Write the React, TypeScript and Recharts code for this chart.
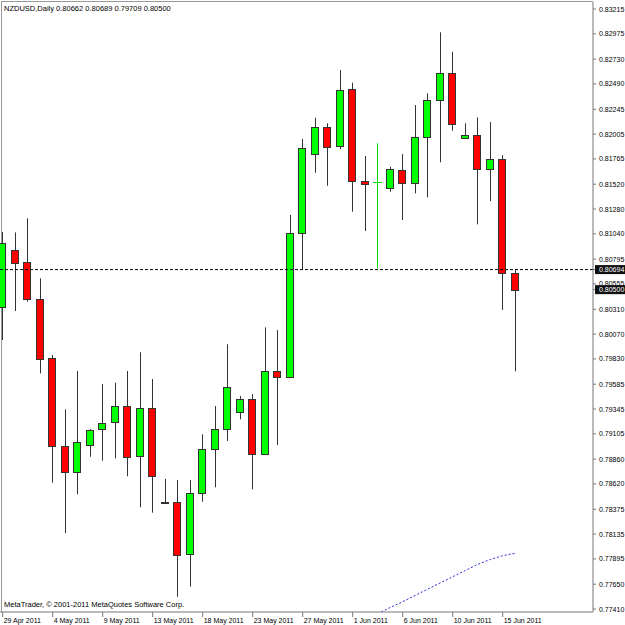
import { ComposedChart, Bar, Line, XAxis, YAxis, ReferenceLine } from 'recharts';

// NZDUSD daily, 29 Apr 2011 .. 16 Jun 2011 (MetaTrader counts the Sunday bars)
const opens = [
  0.80329, 0.8088, 0.8077, 0.80412, 0.79838, 0.7899, 0.78735, 0.78997, 0.79148, 0.79216,
  0.79377, 0.7889, 0.79352, 0.7845, 0.78445, 0.77939, 0.78529, 0.78961, 0.79151, 0.79316,
  0.79439, 0.78907, 0.79716, 0.79652, 0.81045, 0.81809, 0.8207, 0.81892, 0.82441, 0.81554,
  0.81538, 0.81486, 0.81657, 0.81529, 0.81974, 0.82335, 0.82599, 0.8197, 0.81993, 0.81667,
  0.81761, 0.80662,
];
const highs = [
  0.81057, 0.81054, 0.8119, 0.80609, 0.79867, 0.79342, 0.79713, 0.7915, 0.79587, 0.796,
  0.79713, 0.79894, 0.79635, 0.78668, 0.78658, 0.78658, 0.791, 0.79374, 0.79971, 0.79471,
  0.7949, 0.80135, 0.80109, 0.81222, 0.81957, 0.82163, 0.82109, 0.82625, 0.82502, 0.81793,
  0.81916, 0.81689, 0.81812, 0.82286, 0.82399, 0.8299, 0.82802, 0.82109, 0.82167, 0.82122,
  0.81802, 0.80689,
];
const lows = [
  0.80013, 0.80293, 0.80383, 0.7969, 0.78632, 0.78145, 0.7852, 0.78883, 0.78845, 0.78868,
  0.78694, 0.78394, 0.78342, 0.78444, 0.77529, 0.77626, 0.78448, 0.78588, 0.79036, 0.79245,
  0.78568, 0.789, 0.78997, 0.79648, 0.8069, 0.81631, 0.81505, 0.8186, 0.81254, 0.81067,
  0.80706, 0.81447, 0.81174, 0.81432, 0.81393, 0.81732, 0.82037, 0.81964, 0.81132, 0.81357,
  0.80303, 0.79709,
];
const closes = [
  0.80954, 0.8076, 0.80406, 0.79831, 0.7899, 0.78735, 0.79023, 0.79145, 0.79212, 0.79377,
  0.78883, 0.79352, 0.78697, 0.78446, 0.77932, 0.78529, 0.78961, 0.79148, 0.79555, 0.79439,
  0.78907, 0.79716, 0.79652, 0.81045, 0.81873, 0.8207, 0.81883, 0.82431, 0.81554, 0.81522,
  0.81538, 0.81667, 0.81529, 0.81979, 0.82335, 0.82599, 0.82099, 0.81993, 0.81667, 0.81761,
  0.80658, 0.805,
];
// moving average, only the tail is inside the window
const maValues: (number | null)[] = [
  null, null, null, null, null, null, null, null, null, null,
  null, null, null, null, null, null, null, null, null, null,
  null, null, null, null, null, null, null, null, null, null,
  0.77365, 0.77425, 0.77481, 0.77541, 0.77603, 0.77662, 0.77722, 0.77782, 0.77841, 0.77889,
  0.77926, 0.77949,
];

const dateTickIdx = [0, 4, 8, 12, 16, 20, 24, 28, 32, 36, 40];
const dateLabels = [
  '29 Apr 2011', '4 May 2011', '9 May 2011', '13 May 2011', '18 May 2011', '23 May 2011',
  '27 May 2011', '1 Jun 2011', '6 Jun 2011', '10 Jun 2011', '15 Jun 2011',
];
const priceTicks = [
  0.83215, 0.82975, 0.8273, 0.8249, 0.82245, 0.82005, 0.81765, 0.8152, 0.8128, 0.8104,
  0.80795, 0.80555, 0.8031, 0.8007, 0.7983, 0.79585, 0.79345, 0.79105, 0.7886, 0.7862,
  0.78375, 0.78135, 0.77895, 0.7765, 0.7741,
];
const askPrice = 0.80694;
const bidPrice = 0.805;

const data = opens.map((o, i) => ({
  idx: i,
  open: o,
  high: highs[i],
  low: lows[i],
  close: closes[i],
  range: [lows[i], highs[i]],
  ma: maValues[i],
}));

const FONT = "'Liberation Sans', Arial, sans-serif";
const EDGE = '#333';
const DOJI = '#00dd00';

const Candle = (props: any) => {
  const { x, y, width, height, payload } = props;
  if (x == null || y == null) return null;
  const { open, close, high, low } = payload;
  const top = Math.min(y, y + height);
  const bot = Math.max(y, y + height);
  const span = high - low || 1;
  const py = (p: number) => top + ((high - p) / span) * (bot - top);
  const left = Math.round(x + width / 2 - 4);
  const wx = left + 4.5;

  if (Math.abs(open - close) < 1e-7) {
    // exact doji: MetaTrader paints it with the line chart colour
    const yy = Math.round(py(open)) + 0.5;
    return (
      <g>
        <line x1={wx} x2={wx} y1={top} y2={bot} stroke={DOJI} strokeWidth={1} />
        <line x1={left} x2={left + 9} y1={yy} y2={yy} stroke={DOJI} strokeWidth={1} />
      </g>
    );
  }

  const bull = close > open;
  const bTop = Math.round(py(Math.max(open, close)));
  const bBot = Math.round(py(Math.min(open, close)));
  return (
    <g>
      <line x1={wx} x2={wx} y1={top} y2={bot} stroke={EDGE} />
      <rect
        x={left + 0.5}
        y={bTop + 0.5}
        width={7}
        height={Math.max(bBot - bTop, 1)}
        fill={bull ? '#00ff00' : '#ff0000'}
        stroke={EDGE}
      />
    </g>
  );
};

const DateTick = (props: any) => {
  const { x, y, payload } = props;
  const i = dateTickIdx.indexOf(payload.value);
  return (
    <text x={x + 1} y={y + 4} fontSize={7} fontFamily={FONT} fill="#000">
      {dateLabels[i]}
    </text>
  );
};

const PriceTick = (props: any) => {
  const { x, y, payload } = props;
  const v = payload.value;
  const marked = v === askPrice || v === bidPrice;
  return (
    <g>
      {marked && <rect x={595} y={y - 4.5} width={30} height={9} fill="#111" />}
      <text x={x + 1} y={y + 2.5} fontSize={7} fontFamily={FONT} fill={marked ? '#fff' : '#000'}>
        {v.toFixed(5)}
      </text>
    </g>
  );
};

export default function App() {
  return (
    <div style={{ position: 'absolute', left: 0, top: 0, width: 625, height: 625, background: '#fff' }}>
      <ComposedChart width={625} height={625} data={data} margin={{ top: 2, right: 0, bottom: 0, left: 0 }}>
        <XAxis
          dataKey="idx"
          type="number"
          domain={[-0.216, 47.224]}
          allowDataOverflow
          ticks={dateTickIdx}
          interval={0}
          tick={(p: any) => <DateTick {...p} />}
          tickSize={5}
          height={13}
          axisLine={{ stroke: '#777' }}
          tickLine={{ stroke: '#777' }}
        />
        <YAxis
          orientation="right"
          type="number"
          domain={[0.77381, 0.83283]}
          allowDataOverflow
          ticks={[...priceTicks, askPrice, bidPrice]}
          interval={0}
          width={32}
          tickSize={3}
          tick={(p: any) => <PriceTick {...p} />}
          axisLine={{ stroke: '#777' }}
          tickLine={{ stroke: '#777' }}
        />
        <ReferenceLine y={askPrice} stroke="#000" strokeDasharray="3 2" />
        <Bar dataKey="range" barSize={8} shape={(p: any) => <Candle {...p} />} isAnimationActive={false} />
        <Line
          dataKey="ma"
          stroke="#2a2ae0"
          strokeDasharray="2 2"
          dot={false}
          activeDot={false}
          connectNulls={false}
          isAnimationActive={false}
        />
        <line x1={1.5} x2={1.5} y1={1} y2={612} stroke="#999" />
        <line x1={1} x2={593} y1={1.5} y2={1.5} stroke="#999" />
        <text x={4} y={11} fontSize={7.5} fontFamily={FONT} fill="#000">
          NZDUSD,Daily  0.80662 0.80689 0.79709 0.80500
        </text>
        <text x={4} y={607} fontSize={7.5} fontFamily={FONT} fill="#000">
          MetaTrader, © 2001-2011 MetaQuotes Software Corp.
        </text>
      </ComposedChart>
    </div>
  );
}
